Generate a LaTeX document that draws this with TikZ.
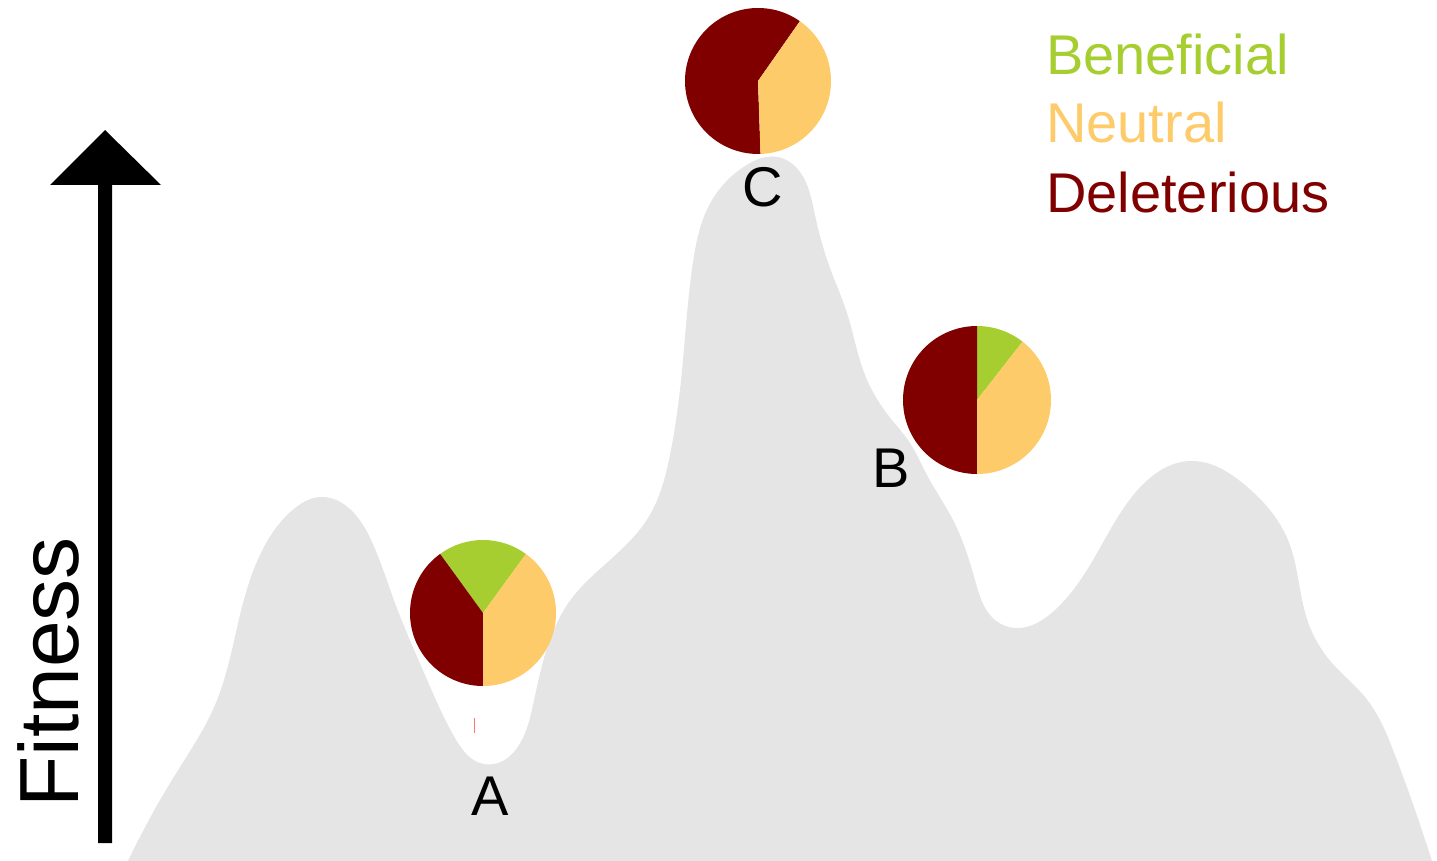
\documentclass[tikz,border=0pt]{standalone}
\usepackage{fontspec}
\setmainfont{Liberation Sans}
\usetikzlibrary{hobby}
\definecolor{land}{HTML}{E5E5E5}
\definecolor{benef}{HTML}{A6CE30}
\definecolor{neut}{HTML}{FDCB6A}
\definecolor{delet}{HTML}{800000}
\newcommand{\pieslc}[5]{\fill[#5] (#1) -- ++(#2:#4) arc[start angle=#2, end angle=#3, radius=#4] -- cycle;}
\tikzset{
  lbl/.style={font=\fontsize{56}{67}\selectfont, inner sep=0pt, anchor=base},
  leg/.style={font=\fontsize{56}{67}\selectfont, inner sep=0pt, anchor=base west},
}
\begin{document}
\begin{tikzpicture}[x=1pt,y=-1pt]
\useasboundingbox (0,0) rectangle (1437,861);
% landscape
\fill[land, use Hobby shortcut] (128,861) .. (175,775) .. (215,705) .. (240,615) .. (265,545)
 .. (295,508) .. (320,497) .. (350,509) .. (372,542) .. (395,603) .. (425,675)
 .. (455,738) .. (480,763) .. (498,763) .. (517,748) .. (533,705) .. (548,645)
 .. (572,598) .. (610,560) .. (648,518) .. (670,455) .. (683,360) .. (693,262)
 .. (712,200) .. (745,166) .. (778,157) .. (800,172) .. (815,215) .. (830,268)
 .. (847,313) .. (865,375) .. (888,415) .. (910,443) .. (927,475) .. (953,520)
 .. (975,580) .. (995,620) .. (1015,628) .. (1055,610) .. (1090,565) .. (1135,493)
 .. (1190,461) .. (1245,485) .. (1288,540) .. (1308,622) .. (1332,663) .. (1365,697)
 .. (1395,755) .. (1432,861) -- cycle;
% small red mark
\draw[red!55, line width=1pt] (474,718) -- (474,733);
% axis arrow
\fill[black] (105,130) -- (161,185) -- (112,185) -- (112,843) -- (98,843) -- (98,185) -- (50,185) -- cycle;
\node[font=\fontsize{84}{100}\selectfont, rotate=90, anchor=base west, inner sep=0pt] (fit) at (78,808) {Fitness};
% pies
\coordinate (pA) at (483,613);
\coordinate (pB) at (977,400);
\coordinate (pC) at (758,81);
\pieslc{pA}{54}{126}{73pt}{benef}
\pieslc{pA}{126}{270}{73pt}{delet}
\pieslc{pA}{270}{414}{73pt}{neut}
\pieslc{pB}{52}{90}{74pt}{benef}
\pieslc{pB}{90}{270}{74pt}{delet}
\pieslc{pB}{270}{412}{74pt}{neut}
\pieslc{pC}{55}{272}{73pt}{delet}
\pieslc{pC}{272}{415}{73pt}{neut}
% labels
\node[lbl] (A) at (490,815) {A};
\node[lbl] (B) at (891,487) {B};
\node[lbl] (C) at (763,207) {C};
% legend
\node[leg, text=benef] (lb) at (1046,75) {Beneficial};
\node[leg, text=neut] (ln) at (1046,143) {Neutral};
\node[leg, text=delet] (ld) at (1046,212) {Deleterious};
\end{tikzpicture}
\end{document}
